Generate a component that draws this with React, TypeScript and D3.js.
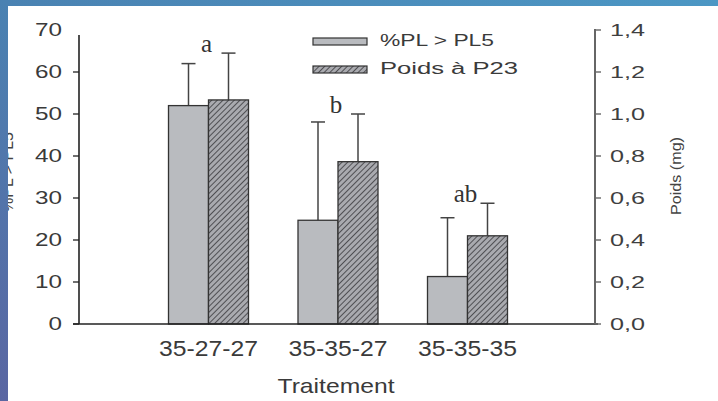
import React from "react";
import * as d3 from "d3";

// Treatments and measured values
const categories = ["35-27-27", "35-35-27", "35-35-35"];
const plMeans = [52, 24.7, 11.3];
const plErrors = [10, 23.4, 14];
const poidsMeans = [1.067, 0.773, 0.42];
const poidsErrors = [0.223, 0.227, 0.155];
const groupLetters = ["a", "b", "ab"];
const leftTicks = [0, 10, 20, 30, 40, 50, 60, 70];
const rightTicks = [0, 0.2, 0.4, 0.6, 0.8, 1.0, 1.2, 1.4];
const legendLabels = ["%PL > PL5", "Poids à P23"];

const W = 718;
const H = 401;
const FONT = "'Liberation Sans', Arial, sans-serif";
const SERIF = "'Liberation Serif', 'Times New Roman', serif";

export default function App() {
  const x = d3.scalePoint<string>().domain(categories).range([79, 597]).padding(1);
  const yL = d3.scaleLinear().domain([0, 70]).range([324, 30]);
  const yR = d3.scaleLinear().domain([0, 1.4]).range([324, 30]);
  const barW = 40;
  const capW = 14;
  const fmtR = (v: number) => d3.format(".1f")(v).replace(".", ",");

  return (
    <svg width={W} height={H} style={{ position: "absolute", left: 0, top: 0, background: "#fff" }}>
      <defs>
        <pattern id="hatch" width="4" height="4" patternUnits="userSpaceOnUse" patternTransform="rotate(45)">
          <rect width="4" height="4" fill="#a9aaaf" />
          <line x1="0" y1="0" x2="0" y2="4" stroke="#3e3e42" strokeWidth="1.7" />
        </pattern>
        <linearGradient id="sideBand" x1="0" y1="0" x2="0" y2="1">
          <stop offset="0" stopColor="#4a82b2" />
          <stop offset="1" stopColor="#5a66a2" />
        </linearGradient>
        <linearGradient id="topBand" x1="0" y1="0" x2="1" y2="0">
          <stop offset="0" stopColor="#4a82b2" />
          <stop offset="1" stopColor="#4c97c4" />
        </linearGradient>
      </defs>
      <rect width={W} height={H} fill="#fff" />

      {/* left axis title, partly clipped by the frame */}
      <text
        transform={`translate(13,172) rotate(-90)`}
        textAnchor="middle"
        fontFamily={FONT}
        fontSize={16}
        fill="#444"
      >
        %PL &gt; PL5
      </text>

      {/* bars */}
      {categories.map((c, i) => {
        const cx = x(c)!;
        return (
          <g key={c}>
            <line x1={cx - barW / 2} x2={cx - barW / 2} y1={yL(plMeans[i])} y2={yL(plMeans[i] + plErrors[i])} stroke="#444" strokeWidth={1.5} />
            <line x1={cx - barW / 2 - capW / 2} x2={cx - barW / 2 + capW / 2} y1={yL(plMeans[i] + plErrors[i])} y2={yL(plMeans[i] + plErrors[i])} stroke="#444" strokeWidth={1.5} />
            <line x1={cx + barW / 2} x2={cx + barW / 2} y1={yR(poidsMeans[i])} y2={yR(poidsMeans[i] + poidsErrors[i])} stroke="#444" strokeWidth={1.5} />
            <line x1={cx + barW / 2 - capW / 2} x2={cx + barW / 2 + capW / 2} y1={yR(poidsMeans[i] + poidsErrors[i])} y2={yR(poidsMeans[i] + poidsErrors[i])} stroke="#444" strokeWidth={1.5} />
            <rect x={cx - barW} y={yL(plMeans[i])} width={barW} height={yL(0) - yL(plMeans[i])} fill="#b9bbbf" stroke="#333" strokeWidth={1.3} />
            <rect x={cx} y={yR(poidsMeans[i])} width={barW} height={yR(0) - yR(poidsMeans[i])} fill="url(#hatch)" stroke="#333" strokeWidth={1.3} />
            <text
              x={cx - 2}
              y={yR(poidsMeans[i] + poidsErrors[i]) - 1}
              textAnchor="middle"
              fontFamily={SERIF}
              fontSize={25}
              fill="#333"
            >
              {groupLetters[i]}
            </text>
            <text
              x={cx}
              y={356}
              textAnchor="middle"
              fontFamily={FONT}
              fontSize={22}
              fill="#3a3a3a"
              textLength={99}
              lengthAdjust="spacingAndGlyphs"
            >
              {c}
            </text>
          </g>
        );
      })}

      {/* left axis */}
      <line x1={79} x2={79} y1={35} y2={324} stroke="#222" strokeWidth={1.6} />
      {leftTicks.map((t) => (
        <g key={t}>
          {t < 70 && <line x1={73} x2={79} y1={yL(t)} y2={yL(t)} stroke="#222" strokeWidth={1.3} />}
          <text
            x={62}
            y={yL(t)}
            dy="0.36em"
            textAnchor="end"
            fontFamily={FONT}
            fontSize={18}
            fill="#3a3a3a"
            textLength={String(t).length * 13.5}
            lengthAdjust="spacingAndGlyphs"
          >
            {t}
          </text>
        </g>
      ))}

      {/* baseline */}
      <line x1={73} x2={598} y1={324} y2={324} stroke="#222" strokeWidth={1.6} />

      {/* right axis */}
      <line x1={595} x2={595} y1={29} y2={324} stroke="#666" strokeWidth={2} />
      {rightTicks.map((t) => (
        <g key={t}>
          <line x1={595} x2={601} y1={yR(t)} y2={yR(t)} stroke="#666" strokeWidth={1.4} />
          <text
            x={610}
            y={yR(t)}
            dy="0.36em"
            fontFamily={FONT}
            fontSize={17}
            fill="#3f3f3f"
            textLength={35}
            lengthAdjust="spacingAndGlyphs"
          >
            {fmtR(t)}
          </text>
        </g>
      ))}
      <text
        transform={`translate(681,176) rotate(-90)`}
        textAnchor="middle"
        fontFamily={FONT}
        fontSize={14}
        fill="#444"
        textLength={78}
        lengthAdjust="spacingAndGlyphs"
      >
        Poids (mg)
      </text>

      {/* x axis title */}
      <text
        x={336}
        y={393}
        textAnchor="middle"
        fontFamily={FONT}
        fontSize={21}
        fill="#3a3a3a"
        textLength={117}
        lengthAdjust="spacingAndGlyphs"
      >
        Traitement
      </text>

      {/* legend */}
      <rect x={313} y={38} width={54} height={7} fill="#b9bbbf" stroke="#333" strokeWidth={1.2} />
      <rect x={313} y={66} width={54} height={7} fill="url(#hatch)" stroke="#333" strokeWidth={1.2} />
      <text x={380} y={46} fontFamily={FONT} fontSize={16} fill="#3a3a3a" textLength={114} lengthAdjust="spacingAndGlyphs">
        {legendLabels[0]}
      </text>
      <text x={380} y={74} fontFamily={FONT} fontSize={16} fill="#3a3a3a" textLength={138} lengthAdjust="spacingAndGlyphs">
        {legendLabels[1]}
      </text>

      {/* slide frame */}
      <rect x={0} y={0} width={W} height={6} fill="url(#topBand)" />
      <rect x={0} y={0} width={8} height={H} fill="url(#sideBand)" />
    </svg>
  );
}
